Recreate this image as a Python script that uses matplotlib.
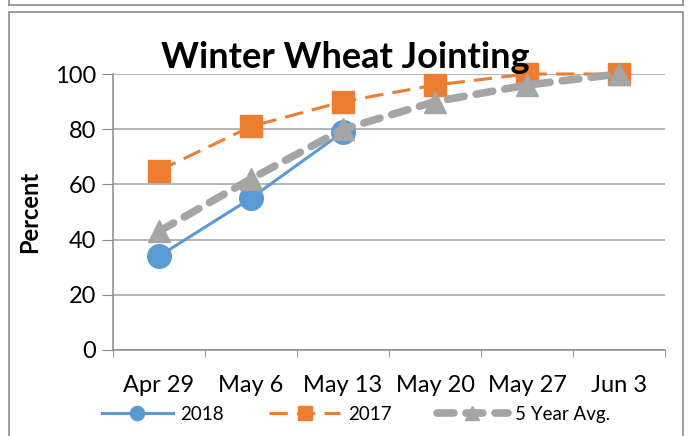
import matplotlib.pyplot as plt
from matplotlib.lines import Line2D
from matplotlib.patches import Rectangle

# chart data
weeks = ['Apr 29', 'May 6', 'May 13', 'May 20', 'May 27', 'Jun 3']
y2018 = [34, 55, 79]
y2017 = [65, 81, 90, 96, 100, 100]
avg5 = [43, 62, 80, 90, 96, 100]

plt.rcParams['font.family'] = ['Lato', 'DejaVu Sans']

fig = plt.figure(figsize=(6.9, 4.36), dpi=100)
W, H = 690, 436

# outer frames (chart box + bottom of box above)
fig.add_artist(Rectangle((9 / W, -0.01), 674 / W, 1 - 12 / H + 0.01, transform=fig.transFigure,
                         fill=False, edgecolor='#8c8c8c', lw=1.2))
fig.add_artist(Line2D([9 / W, 683 / W], [1 - 5 / H, 1 - 5 / H], transform=fig.transFigure, color='#8c8c8c', lw=1.2))
fig.add_artist(Line2D([9 / W, 9 / W], [1 - 5 / H, 1.0], transform=fig.transFigure, color='#8c8c8c', lw=1.2))
fig.add_artist(Line2D([683 / W, 683 / W], [1 - 5 / H, 1.0], transform=fig.transFigure, color='#8c8c8c', lw=1.2))

ax = fig.add_axes([113 / W, 1 - 350 / H, 552 / W, 276 / H])
x = list(range(len(weeks)))

ax.plot(x[:len(y2018)], y2018, color='#5B9BD5', lw=2.2, marker='o', ms=17, zorder=3, clip_on=False, label='2018')
ax.plot(x, y2017, color='#ED7D31', lw=2.2, ls=(0, (6, 3)), marker='s', ms=16, zorder=4, clip_on=False, label='2017')
ax.plot(x, avg5, color='#A5A5A5', lw=5.5, ls=(0, (2.2, 1.6)), dash_capstyle='round', marker='^', ms=16,
        zorder=5, clip_on=False, label='5 Year Avg.')

ax.set_xlim(-0.5, 5.5)
ax.set_ylim(0, 100)
ax.set_yticks(range(0, 101, 20))
ax.set_xticks(x)
ax.set_xticklabels(weeks)
ax.set_xticks([i - 0.5 for i in range(7)], minor=True)
ax.tick_params(axis='x', which='major', length=0, labelsize=17, pad=18)
ax.tick_params(axis='x', which='minor', length=5, color='#8c8c8c')
ax.tick_params(axis='y', length=8, color='#8c8c8c', labelsize=17, pad=4)
ax.grid(axis='y', color='#a0a0a0', lw=1.1)
ax.set_axisbelow(True)
for s in ['top', 'right']:
    ax.spines[s].set_visible(False)
for s in ['left', 'bottom']:
    ax.spines[s].set_color('#8c8c8c')
    ax.spines[s].set_linewidth(1.1)

ax.set_ylabel('Percent', fontsize=17, fontweight='bold', labelpad=10)
fig.text(345 / W, 1 - 57 / H, 'Winter Wheat Jointing', ha='center', va='center', fontsize=26, fontweight='bold',
         zorder=10)

leg = fig.legend(loc='center', bbox_to_anchor=(356 / W, 1 - 414 / H), ncol=3, frameon=False, fontsize=13.5,
                 markerscale=0.6, handlelength=3.8, columnspacing=2.4, handletextpad=0.4)

fig.savefig('out.png', dpi=100)
